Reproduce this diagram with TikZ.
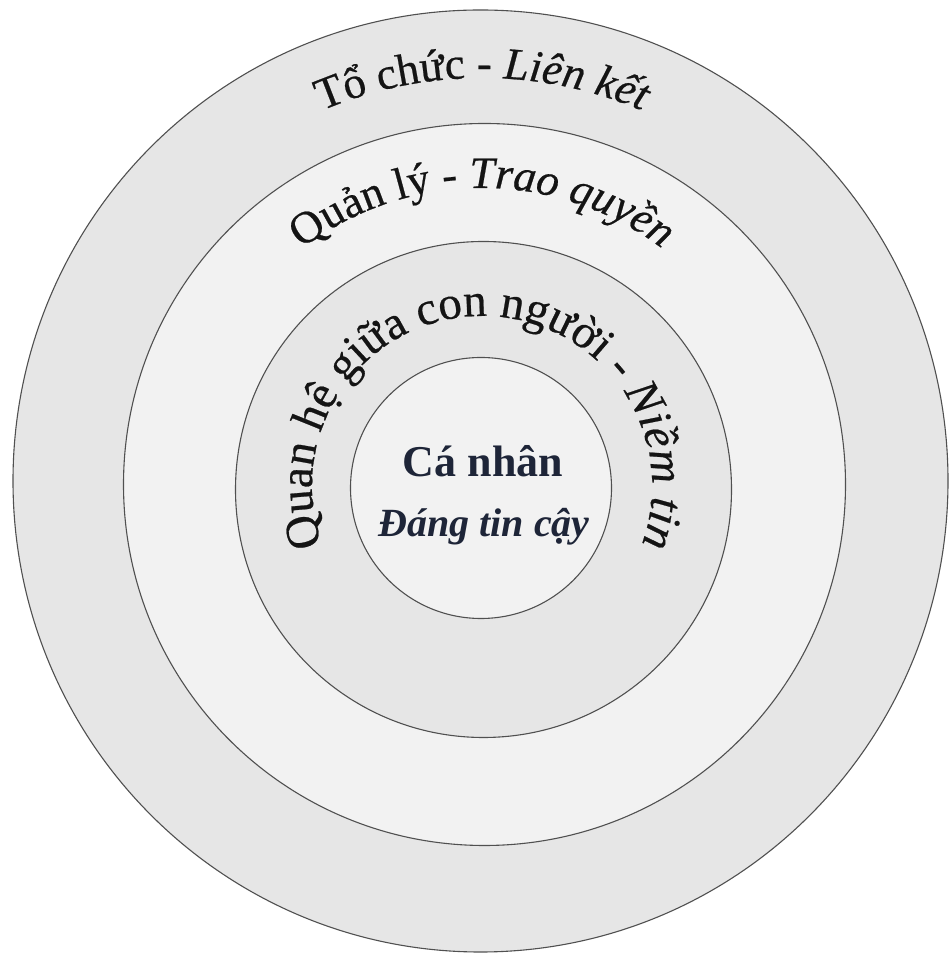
\documentclass[tikz,border=0pt]{standalone}
\usepackage{fontspec}
\setmainfont{Liberation Serif}
\newfontfamily\ringfam[FakeBold=0.5]{Liberation Serif}
\usetikzlibrary{decorations.text}
\definecolor{ringA}{HTML}{E6E6E6}
\definecolor{ringB}{HTML}{F2F2F2}
\definecolor{edge}{HTML}{505050}
\definecolor{core}{HTML}{1E2538}
\definecolor{ink}{HTML}{141414}
\newcommand{\ringfont}{\ringfam\fontsize{45}{47}\selectfont}
\newcommand{\innerfont}{\ringfam\fontsize{47}{49}\selectfont}
\begin{document}
\begin{tikzpicture}[x=1pt,y=1pt,
  ring/.style={draw=edge, line width=1.1pt},
  arctext/.style={decorate, decoration={text along path, text align=center, text color=ink, #1}}]
\useasboundingbox (0,0) rectangle (949,955);
\fill[white] (0,0) rectangle (949,955);
\coordinate (c1) at (480.5,474);
\coordinate (c2) at (484.5,470.5);
\coordinate (c3) at (483.5,465.5);
\coordinate (c4) at (481,467);
\coordinate (ct) at (482,469);
\draw[ring, fill=ringA] (c1) ellipse [x radius=467.5, y radius=471];
\draw[ring, fill=ringB] (c2) circle [radius=361];
\draw[ring, fill=ringA] (c3) circle [radius=248];
\draw[ring, fill=ringB] (c4) circle [radius=130.5];
\path[arctext={text={|\ringfont|Tổ chức - |\ringfont\itshape|Liên kết}}]
  ([shift={(ct)}]125:408) arc [start angle=125, end angle=55, radius=408];
\path[arctext={text={|\ringfont|Quản lý - |\ringfont\itshape|Trao quyền}}]
  ([shift={(ct)}]140:298) arc [start angle=140, end angle=40, radius=298];
\path[arctext={text={|\innerfont|Quan hệ giữa con người - |\innerfont\itshape|Niềm tin}}]
  ([shift={(ct)}]225:170) arc [start angle=225, end angle=-45, radius=170];
\node[anchor=base, text=core, font=\fontsize{44}{46}\selectfont\bfseries] (canhan) at (483,478) {Cá nhân};
\node[anchor=base, text=core, font=\fontsize{40}{42}\selectfont\bfseries\itshape] (dangtin) at (484,418) {Đáng tin cậy};
\end{tikzpicture}
\end{document}
